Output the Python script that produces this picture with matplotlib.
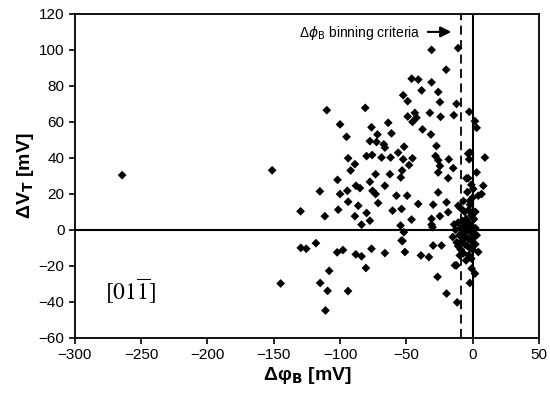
import matplotlib
matplotlib.use("Agg")
import matplotlib.pyplot as plt
import numpy as np

plt.rcParams['font.family'] = ['Liberation Sans', 'DejaVu Sans']

# scattered points (delta phi_B, delta V_T) in mV
dphi = [-31, -11, -20, -46, -41, -31, -38.5, -26, -52.4, -49, -24.7, -12.2, -110, -81,
        -43.6, -49, -42.4, -32.3, -24.2, -14.2, -2.6, 1.7, 3, -45.4, -100, -76.3, -63.7,
        -37.8, -31.5, -95.1, -71.8, -61.2, -77.5, -72.5, -67, -66.2, -51.7, -27.3, -56.2,
        -80, -75.8, -68.7, -61.9, -93.9, -52.4, -45.4, -28, -26, -18, -3.4, -2.6, 9.2,
        -151.2, -88.8, -92, -48, -24.7, -53.2, -14.7, -26, -73.2, -62.4, -101.9, -54.2,
        -18.5, -3.4, 3, -77.5, -66.2, -88, -85, -115.2, -100, -94.5, -75.5, -73.2, -57.5,
        -49.4, -26, -93.9, -86.3, -71.3, -41.1, -29.8, -19.7, -10.9, -129.8, -101.4, -60.4,
        -53.6, -18.5, -111.5, -88.8, -80, -77.5, -46.1, -31, -24.7, -83.8, -54.4, -31,
        -51.9, -264.3, 0.4, 4.2, -2.1, -4.7, -2, 8, 6.7, -53.6, -30.3,
        -129.6, -125.5, -118.2, -102.2, -97.8, -88.1, -108.2, -144.8, -115, -109.4, -94,
        -111, -83.8, -76.3, -80.5, -66.2, -52.9, -51.1, -39, -33, -29.8, -23.5, -26.5,
        -19.7, -11.7, -12.2, -0.8, 1.7, -2.1, 4.2, -9.7, -13.4,
        -9, -6, -3, -1, 1, -5, -8, -11, -3, -1, 2, -6, -9, -13, -4, -2, 0, -7, -10, -5,
        -3, -1, 1, -8, -12, -6, -4, -2, 0, -9, -7, -3, -1, 2, -5, -15, -14, -11, 3, -2,
        0, -4, -1, 2, -7]
dvt = [100, 101, 89, 84, 83.5, 82, 77.5, 76.6, 74.8, 71.5, 71, 70, 66.5, 67.8,
       65, 63, 62.3, 65, 62.8, 63.7, 65.6, 60.4, 56.7, 60, 58.6, 57, 59.5,
       55.8, 53, 51.7, 53, 53.6, 49.3, 48.8, 47.5, 45.7, 46.2, 46.6, 42.9,
       41, 41.6, 40.2, 40.2, 39.8, 39.2, 39.8, 41, 38.7, 39.2, 42.4, 39.2, 40.2,
       33.1, 36.5, 33, 36, 35.5, 33, 34.3, 31.9, 30.9, 30.9, 27.8, 29.1,
       28.7, 28.7, 31.9, 26.7, 24.5, 24.5, 23.2, 21.4, 19.9, 21.7, 21.7, 19.9, 19,
       19, 20.8, 15.6, 13.4, 14.9, 14.4, 14, 15.3, 13.4, 10.3, 11.2, 10.7,
       11.6, 9.8, 7.6, 7.6, 9.4, 5.1, 5.7, 6.1, 7.6, 2.9, 2.4, 2.9,
       -1.3, 30.4, 22.7, 19, 16.2, 28.6, 43, 24.5, 19.9, -5.9, 1.5,
       -10, -10.5, -7.4, -12.5, -11.2, -13.6, -22.8, -29.8, -29.5, -33.9, -34,
       -44.8, -14.7, -10.5, -21.2, -12.9, -6.2, -12.3, -14.2, -15.1, -8.7, -8.7, -26.1,
       -35.4, -40.3, -19.7, -21.5, -24.3, -29.5, -12.3, -14.2, -19.7,
       12, 10, 11, 8, 6, 6, 5, 4, 4, 2, 1, 2, 1, 0, 0, -1, -2, -2, -3, -4,
       -5, -6, -4, -6, -7, -8, -9, -10, -11, -11, -13, -14, -16, -8, -17, -4, 3, -9, -3, 14,
       18, 21, 25, 10, 16]

xticks = [-300, -250, -200, -150, -100, -50, 0, 50]
yticks = [-60, -40, -20, 0, 20, 40, 60, 80, 100, 120]
criterion = -9

fig = plt.figure(figsize=(5.5, 4.09), dpi=100)
ax = fig.add_axes([0.136, 0.174, 0.844, 0.792])

ax.axhline(0, color='black', lw=1.5, zorder=1)
ax.axvline(0, color='black', lw=1.5, zorder=1)
ax.axvline(criterion, color='black', lw=1.3, ls=(0, (5, 3)), zorder=1)

ax.scatter(dphi, dvt, marker='D', s=20, color='black', edgecolors='none', zorder=3)

ax.set_xlim(-300, 50)
ax.set_ylim(-60, 120)
ax.set_xticks(xticks)
ax.set_yticks(yticks)
ax.tick_params(direction='out', length=4, width=1.2, labelsize=11)
for s in ax.spines.values():
    s.set_linewidth(1.3)

ax.set_xlabel('Δφ$_\\mathbf{B}$ [mV]', fontsize=14, fontweight='bold', labelpad=2)
ax.set_ylabel('ΔV$_\\mathbf{T}$ [mV]', fontsize=14, fontweight='bold', labelpad=2)

ax.annotate('', xy=(-14, 110), xytext=(-36, 110),
            arrowprops=dict(arrowstyle='-|>', color='black', lw=1.5, mutation_scale=16))
ax.text(-39, 109.5, r'Δ$\phi_\mathrm{B}$ binning criteria', fontsize=10,
        va='center', ha='right')

plt.rcParams['mathtext.fontset'] = 'stix'
ax.text(-277, -34, r'$\mathrm{[01\overline{1}]}$', fontsize=17, va='center')

fig.savefig('out.png', dpi=100)
